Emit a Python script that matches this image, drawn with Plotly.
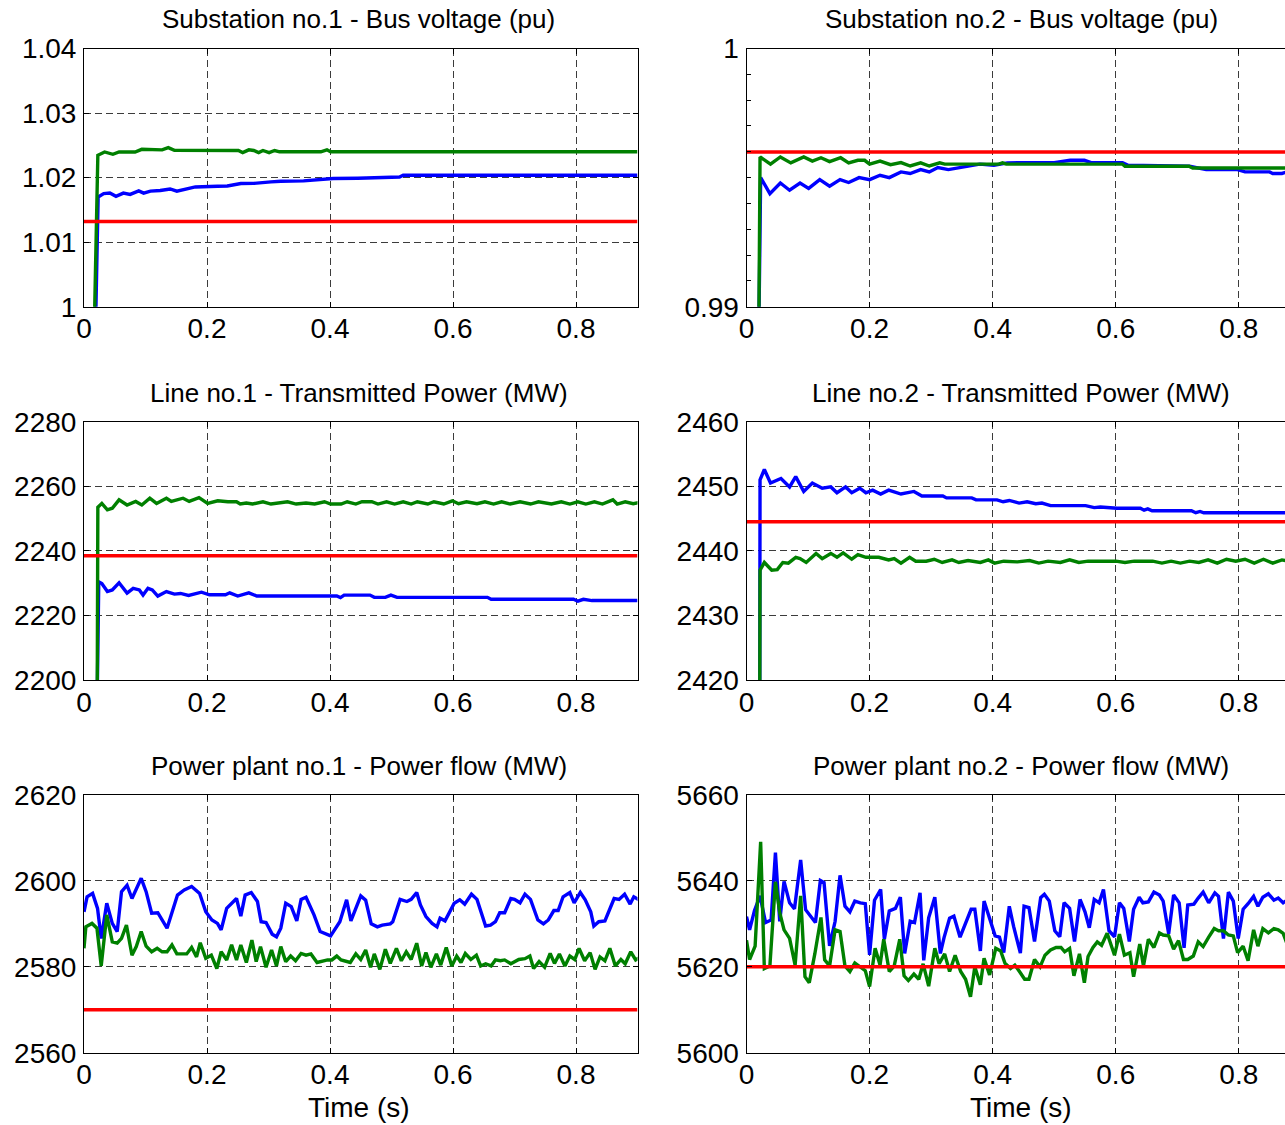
import plotly.graph_objects as go

# ---------------- data ----------------
# Substation no.1 - Bus voltage (pu)
s1_blue_t = [0.019, 0.023, 0.032, 0.042, 0.052, 0.064, 0.075, 0.089, 0.097, 0.108, 0.124, 0.140, 0.151, 0.168, 0.181, 0.217, 0.233, 0.255, 0.276, 0.304, 0.320, 0.357, 0.398, 0.405, 0.445, 0.467, 0.513, 0.519, 0.9]
s1_blue_v = [0.998, 1.0170, 1.01753, 1.0176, 1.0171, 1.0176, 1.0174, 1.01794, 1.0176, 1.0179, 1.0180, 1.01824, 1.0179, 1.0182, 1.01855, 1.01866, 1.0187, 1.01908, 1.0191, 1.01933, 1.01943, 1.0195, 1.0197, 1.01985, 1.0199, 1.0200, 1.0201, 1.02036, 1.02036]
s1_green_t = [0.017, 0.0225, 0.0335, 0.047, 0.057, 0.083, 0.094, 0.114, 0.127, 0.137, 0.147, 0.251, 0.258, 0.268, 0.276, 0.284, 0.291, 0.301, 0.310, 0.318, 0.385, 0.395, 0.401, 0.9]
s1_green_v = [0.998, 1.02346, 1.02397, 1.02361, 1.02397, 1.02397, 1.02438, 1.02430, 1.02430, 1.02465, 1.02423, 1.02420, 1.02387, 1.02430, 1.02420, 1.02387, 1.02420, 1.02387, 1.02420, 1.02400, 1.02400, 1.02430, 1.02400, 1.02400]
s1_ref = 1.0132

# Substation no.2 - Bus voltage (pu)
s2_blue_t = [0.020, 0.023, 0.038, 0.055, 0.070, 0.087, 0.101, 0.119, 0.135, 0.152, 0.166, 0.183, 0.200, 0.217, 0.232, 0.251, 0.266, 0.283, 0.297, 0.311, 0.328, 0.345, 0.362, 0.379, 0.402, 0.424, 0.464, 0.500, 0.526, 0.549, 0.560, 0.611, 0.620, 0.679, 0.720, 0.747, 0.798, 0.810, 0.850, 0.855, 0.870, 0.878, 0.9]
s2_blue_v = [0.989, 0.9950, 0.99438, 0.99479, 0.99451, 0.99479, 0.99458, 0.99492, 0.99467, 0.99492, 0.99481, 0.99500, 0.99492, 0.99509, 0.99500, 0.99522, 0.99516, 0.99531, 0.99522, 0.99539, 0.99531, 0.99539, 0.99544, 0.99552, 0.99548, 0.99557, 0.99558, 0.99558, 0.99567, 0.99567, 0.99558, 0.99558, 0.99548, 0.99544, 0.99544, 0.99531, 0.99531, 0.99522, 0.99522, 0.99516, 0.99516, 0.99522, 0.99520]
s2_green_t = [0.020, 0.022, 0.039, 0.055, 0.072, 0.093, 0.107, 0.121, 0.135, 0.153, 0.166, 0.181, 0.192, 0.200, 0.217, 0.234, 0.251, 0.266, 0.283, 0.297, 0.314, 0.322, 0.410, 0.416, 0.422, 0.611, 0.615, 0.719, 0.725, 0.9]
s2_green_v = [0.989, 0.99580, 0.99552, 0.99580, 0.99557, 0.99580, 0.99564, 0.99577, 0.99562, 0.99577, 0.99557, 0.99567, 0.99567, 0.99552, 0.99564, 0.99550, 0.99558, 0.99545, 0.99557, 0.99545, 0.99557, 0.99552, 0.99552, 0.99557, 0.99552, 0.99552, 0.99544, 0.99544, 0.99537, 0.99537]
s2_ref = 0.99599

# Line no.1 - Transmitted Power (MW)
l1_blue_t = [0.0215, 0.024, 0.029, 0.038, 0.046, 0.057, 0.070, 0.080, 0.090, 0.096, 0.104, 0.111, 0.120, 0.134, 0.147, 0.157, 0.170, 0.191, 0.204, 0.230, 0.237, 0.250, 0.268, 0.281, 0.411, 0.417, 0.423, 0.465, 0.472, 0.490, 0.499, 0.509, 0.656, 0.662, 0.796, 0.803, 0.812, 0.826, 0.9]
l1_blue_v = [2195, 2230.4, 2229.9, 2227.4, 2227.9, 2230.1, 2226.9, 2228.4, 2227.9, 2226.3, 2228.4, 2227.9, 2226.0, 2227.4, 2226.6, 2226.8, 2226.2, 2227.2, 2226.4, 2226.4, 2227.0, 2226.0, 2227.0, 2226.0, 2226.0, 2225.5, 2226.3, 2226.3, 2225.6, 2225.6, 2226.3, 2225.6, 2225.6, 2225.0, 2225.0, 2224.4, 2225.0, 2224.6, 2224.6]
l1_green_t = [0.0215, 0.0225, 0.029, 0.038, 0.046, 0.057, 0.070, 0.084, 0.094, 0.107, 0.118, 0.134, 0.142, 0.151, 0.161, 0.171, 0.187, 0.201, 0.2175, 0.234, 0.248, 0.254, 0.264, 0.274, 0.291, 0.304, 0.318, 0.331, 0.345, 0.361, 0.375, 0.391, 0.401, 0.418, 0.428, 0.442, 0.452, 0.468, 0.478, 0.492, 0.505, 0.519, 0.532, 0.542, 0.559, 0.569, 0.585, 0.599, 0.609, 0.622, 0.639, 0.652, 0.666, 0.679, 0.693, 0.709, 0.726, 0.739, 0.760, 0.776, 0.790, 0.803, 0.816, 0.830, 0.843, 0.860, 0.867, 0.880, 0.893, 0.909]
l1_green_v = [2195, 2253.5, 2254.7, 2252.7, 2253.2, 2255.8, 2254.2, 2255.3, 2254.2, 2256.3, 2254.7, 2256.3, 2255.3, 2255.8, 2256.3, 2255.3, 2256.5, 2254.7, 2255.5, 2255.2, 2255.2, 2254.5, 2254.8, 2254.5, 2255.2, 2254.5, 2254.8, 2255.2, 2254.5, 2254.8, 2254.5, 2255.2, 2254.5, 2254.5, 2255.2, 2254.5, 2255.2, 2255.2, 2254.5, 2255.2, 2254.5, 2255.2, 2254.5, 2255.2, 2254.5, 2255.2, 2254.5, 2255.5, 2254.6, 2255.2, 2254.6, 2255.2, 2254.5, 2255.2, 2254.5, 2255.2, 2254.5, 2255.2, 2254.5, 2255.2, 2254.5, 2255.2, 2254.5, 2255.2, 2254.5, 2255.8, 2254.5, 2255.2, 2254.6, 2255.2]
l1_ref = 2238.5

# Line no.2 - Transmitted Power (MW)
l2_blue_t = [0.0215, 0.022, 0.029, 0.039, 0.056, 0.070, 0.080, 0.093, 0.107, 0.123, 0.137, 0.147, 0.161, 0.171, 0.184, 0.194, 0.205, 0.218, 0.231, 0.251, 0.272, 0.285, 0.319, 0.325, 0.366, 0.373, 0.407, 0.417, 0.427, 0.443, 0.456, 0.470, 0.480, 0.494, 0.551, 0.565, 0.575, 0.590, 0.602, 0.640, 0.646, 0.652, 0.659, 0.723, 0.730, 0.737, 0.743, 0.9]
l2_blue_v = [2415, 2451.0, 2452.6, 2450.5, 2451.2, 2449.9, 2451.5, 2449.2, 2450.5, 2449.7, 2449.9, 2449.0, 2449.9, 2449.0, 2449.7, 2449.0, 2449.4, 2448.8, 2449.4, 2448.8, 2449.2, 2448.5, 2448.5, 2448.2, 2448.2, 2447.9, 2447.9, 2447.6, 2447.8, 2447.4, 2447.6, 2447.3, 2447.4, 2447.0, 2447.0, 2446.7, 2446.8, 2446.7, 2446.6, 2446.6, 2446.3, 2446.5, 2446.2, 2446.2, 2445.9, 2446.1, 2445.9, 2445.9]
l2_green_t = [0.0215, 0.022, 0.029, 0.041, 0.050, 0.059, 0.068, 0.080, 0.087, 0.097, 0.113, 0.123, 0.137, 0.147, 0.157, 0.171, 0.181, 0.194, 0.215, 0.231, 0.240, 0.251, 0.265, 0.275, 0.292, 0.305, 0.318, 0.334, 0.345, 0.360, 0.380, 0.393, 0.403, 0.418, 0.440, 0.460, 0.475, 0.490, 0.510, 0.525, 0.540, 0.555, 0.575, 0.600, 0.615, 0.630, 0.660, 0.675, 0.690, 0.705, 0.720, 0.735, 0.750, 0.765, 0.780, 0.795, 0.810, 0.825, 0.840, 0.855, 0.870, 0.885, 0.9]
l2_green_v = [2415, 2437.0, 2438.2, 2437.0, 2437.1, 2438.2, 2438.1, 2439.0, 2438.8, 2438.2, 2439.6, 2438.8, 2439.6, 2439.0, 2439.7, 2438.7, 2439.4, 2439.0, 2439.0, 2438.6, 2438.8, 2438.1, 2439.0, 2438.4, 2438.4, 2438.7, 2438.2, 2438.6, 2438.2, 2438.5, 2438.2, 2438.6, 2438.1, 2438.4, 2438.3, 2438.5, 2438.1, 2438.4, 2438.2, 2438.6, 2438.2, 2438.4, 2438.4, 2438.4, 2438.2, 2438.4, 2438.4, 2438.1, 2438.4, 2438.1, 2438.4, 2438.2, 2438.6, 2438.1, 2438.7, 2438.4, 2438.7, 2438.1, 2438.7, 2438.1, 2438.6, 2438.3, 2438.6]
l2_ref = 2444.5

# Power plant no.1 - Power flow (MW)
p1_blue_t = [0.000, 0.005, 0.014, 0.022, 0.028, 0.037, 0.046, 0.054, 0.061, 0.070, 0.078, 0.093, 0.101, 0.110, 0.120, 0.135, 0.152, 0.163, 0.175, 0.188, 0.198, 0.208, 0.217, 0.223, 0.232, 0.248, 0.255, 0.262, 0.272, 0.282, 0.288, 0.296, 0.306, 0.313, 0.320, 0.328, 0.337, 0.346, 0.353, 0.361, 0.374, 0.384, 0.401, 0.416, 0.427, 0.434, 0.450, 0.458, 0.467, 0.477, 0.485, 0.498, 0.502, 0.514, 0.525, 0.532, 0.541, 0.547, 0.556, 0.566, 0.574, 0.579, 0.587, 0.602, 0.611, 0.619, 0.630, 0.639, 0.653, 0.661, 0.669, 0.676, 0.684, 0.694, 0.700, 0.709, 0.717, 0.726, 0.738, 0.747, 0.755, 0.764, 0.771, 0.779, 0.790, 0.797, 0.807, 0.815, 0.824, 0.829, 0.837, 0.847, 0.862, 0.870, 0.879, 0.888, 0.894, 0.905]
p1_blue_v = [2592.8, 2596.3, 2597.1, 2593.6, 2586.6, 2594.8, 2590.1, 2588.2, 2597.5, 2599.0, 2595.9, 2600.6, 2597.5, 2592.5, 2592.6, 2589.0, 2596.7, 2597.9, 2598.7, 2597.1, 2592.8, 2590.9, 2590.1, 2588.6, 2593.6, 2595.9, 2591.8, 2596.7, 2597.3, 2595.2, 2590.5, 2590.3, 2587.6, 2587.0, 2589.0, 2594.8, 2594.0, 2590.7, 2595.7, 2596.2, 2592.1, 2588.2, 2587.2, 2590.5, 2595.6, 2590.7, 2596.5, 2595.5, 2590.0, 2589.3, 2589.7, 2590.0, 2590.5, 2595.7, 2595.2, 2595.7, 2597.3, 2594.4, 2591.7, 2590.1, 2589.3, 2591.3, 2590.7, 2594.8, 2595.6, 2594.6, 2596.9, 2595.7, 2589.5, 2589.7, 2590.5, 2592.6, 2592.6, 2595.9, 2595.7, 2594.9, 2596.9, 2595.7, 2590.9, 2590.0, 2590.9, 2593.1, 2593.1, 2596.3, 2597.3, 2594.9, 2597.3, 2595.6, 2592.8, 2589.5, 2590.5, 2590.7, 2595.9, 2595.7, 2596.9, 2594.6, 2596.3, 2595.4]
p1_green_t = [0.000, 0.003, 0.013, 0.021, 0.028, 0.037, 0.046, 0.054, 0.061, 0.069, 0.078, 0.085, 0.093, 0.101, 0.110, 0.119, 0.127, 0.135, 0.143, 0.151, 0.167, 0.175, 0.183, 0.189, 0.198, 0.207, 0.216, 0.223, 0.232, 0.240, 0.248, 0.255, 0.264, 0.273, 0.280, 0.287, 0.296, 0.305, 0.313, 0.320, 0.328, 0.336, 0.344, 0.353, 0.361, 0.369, 0.379, 0.396, 0.403, 0.411, 0.418, 0.433, 0.442, 0.450, 0.458, 0.466, 0.472, 0.481, 0.490, 0.498, 0.508, 0.516, 0.524, 0.532, 0.541, 0.549, 0.556, 0.564, 0.573, 0.580, 0.589, 0.598, 0.606, 0.613, 0.620, 0.629, 0.638, 0.645, 0.653, 0.662, 0.669, 0.677, 0.684, 0.694, 0.707, 0.717, 0.725, 0.731, 0.740, 0.749, 0.758, 0.765, 0.773, 0.782, 0.790, 0.798, 0.805, 0.814, 0.823, 0.831, 0.839, 0.847, 0.855, 0.864, 0.873, 0.880, 0.889, 0.897, 0.905]
p1_green_v = [2584.3, 2589.3, 2590.1, 2589.0, 2580.2, 2592.1, 2585.8, 2585.5, 2586.6, 2589.7, 2582.7, 2584.7, 2588.2, 2584.8, 2583.5, 2584.3, 2583.5, 2583.5, 2585.1, 2583.0, 2583.0, 2584.5, 2582.3, 2585.6, 2582.0, 2582.7, 2579.6, 2583.5, 2581.6, 2585.1, 2581.6, 2585.1, 2581.0, 2586.2, 2581.2, 2584.7, 2579.9, 2583.9, 2580.2, 2584.7, 2581.2, 2582.5, 2581.4, 2583.1, 2582.7, 2583.0, 2581.0, 2581.6, 2581.6, 2582.5, 2581.6, 2581.0, 2583.0, 2581.7, 2583.9, 2579.9, 2583.0, 2579.4, 2584.1, 2580.8, 2584.3, 2581.4, 2583.5, 2581.7, 2585.5, 2580.2, 2583.3, 2579.9, 2583.0, 2580.4, 2584.5, 2580.2, 2582.5, 2581.0, 2583.1, 2581.7, 2582.7, 2580.2, 2580.7, 2580.2, 2581.6, 2581.4, 2581.6, 2580.7, 2581.7, 2581.9, 2582.5, 2579.6, 2581.2, 2579.9, 2583.1, 2580.8, 2583.0, 2580.2, 2582.5, 2581.7, 2584.3, 2581.4, 2583.3, 2579.4, 2582.3, 2581.4, 2584.3, 2580.2, 2581.7, 2580.7, 2583.5, 2581.6, 2582.3]
p1_ref = 2570

# Power plant no.2 - Power flow (MW)
p2_blue_t = [0.000, 0.005, 0.013, 0.022, 0.031, 0.040, 0.047, 0.054, 0.061, 0.070, 0.078, 0.088, 0.096, 0.104, 0.112, 0.120, 0.126, 0.135, 0.144, 0.152, 0.160, 0.168, 0.176, 0.185, 0.193, 0.200, 0.208, 0.218, 0.224, 0.232, 0.242, 0.250, 0.257, 0.266, 0.273, 0.282, 0.288, 0.296, 0.306, 0.315, 0.321, 0.330, 0.337, 0.347, 0.356, 0.365, 0.371, 0.380, 0.386, 0.395, 0.404, 0.411, 0.418, 0.427, 0.434, 0.445, 0.451, 0.459, 0.468, 0.478, 0.484, 0.492, 0.501, 0.509, 0.516, 0.525, 0.533, 0.542, 0.550, 0.557, 0.565, 0.573, 0.580, 0.589, 0.598, 0.606, 0.613, 0.622, 0.629, 0.638, 0.644, 0.653, 0.662, 0.671, 0.677, 0.686, 0.694, 0.703, 0.711, 0.717, 0.727, 0.734, 0.742, 0.751, 0.761, 0.767, 0.775, 0.783, 0.791, 0.799, 0.807, 0.815, 0.824, 0.831, 0.839, 0.848, 0.857, 0.864, 0.872, 0.880, 0.890, 0.900]
p2_blue_v = [5631.7, 5628.6, 5633.1, 5636.5, 5630.3, 5630.9, 5646.6, 5630.6, 5639.9, 5634.9, 5633.5, 5644.9, 5633.3, 5631.8, 5630.3, 5640.1, 5639.6, 5624.9, 5630.6, 5641.3, 5634.1, 5632.8, 5635.3, 5634.9, 5634.7, 5622.8, 5635.5, 5638.0, 5626.4, 5633.0, 5633.6, 5636.2, 5623.1, 5630.6, 5630.3, 5637.2, 5621.5, 5631.4, 5636.2, 5623.1, 5626.8, 5631.3, 5631.8, 5626.9, 5630.3, 5633.4, 5633.4, 5623.7, 5635.3, 5631.0, 5627.2, 5626.9, 5623.3, 5634.1, 5629.4, 5623.2, 5634.1, 5633.8, 5625.9, 5636.1, 5636.9, 5635.3, 5628.4, 5627.0, 5634.9, 5633.6, 5625.9, 5635.7, 5632.8, 5629.1, 5635.7, 5634.9, 5638.0, 5628.4, 5627.0, 5634.9, 5633.6, 5625.9, 5633.4, 5636.2, 5634.9, 5635.1, 5637.4, 5636.7, 5635.3, 5627.7, 5636.7, 5634.9, 5624.4, 5634.4, 5634.6, 5636.0, 5637.4, 5634.9, 5637.2, 5636.4, 5626.6, 5637.4, 5635.3, 5626.6, 5633.4, 5634.7, 5636.4, 5634.1, 5636.2, 5637.0, 5635.5, 5636.0, 5634.9, 5635.7, 5635.0, 5636.0]
p2_green_t = [0.000, 0.005, 0.014, 0.023, 0.029, 0.038, 0.047, 0.054, 0.061, 0.070, 0.079, 0.088, 0.095, 0.102, 0.111, 0.121, 0.127, 0.135, 0.144, 0.152, 0.160, 0.168, 0.176, 0.185, 0.193, 0.200, 0.209, 0.217, 0.223, 0.232, 0.240, 0.249, 0.256, 0.263, 0.272, 0.280, 0.287, 0.296, 0.306, 0.313, 0.322, 0.330, 0.339, 0.348, 0.356, 0.364, 0.371, 0.380, 0.386, 0.395, 0.405, 0.413, 0.420, 0.429, 0.436, 0.443, 0.452, 0.459, 0.468, 0.477, 0.485, 0.494, 0.503, 0.511, 0.517, 0.525, 0.532, 0.541, 0.549, 0.555, 0.563, 0.570, 0.577, 0.586, 0.598, 0.606, 0.614, 0.623, 0.629, 0.639, 0.645, 0.653, 0.662, 0.671, 0.677, 0.686, 0.694, 0.702, 0.710, 0.717, 0.726, 0.734, 0.742, 0.751, 0.760, 0.767, 0.775, 0.783, 0.791, 0.798, 0.807, 0.815, 0.824, 0.831, 0.839, 0.848, 0.857, 0.864, 0.872, 0.880, 0.890, 0.900]
p2_green_v = [5626.2, 5621.7, 5624.8, 5649.1, 5619.6, 5620.2, 5639.8, 5632.6, 5628.6, 5626.6, 5620.4, 5636.5, 5617.7, 5616.3, 5623.0, 5631.5, 5621.6, 5620.2, 5628.6, 5628.2, 5620.2, 5618.9, 5620.9, 5619.9, 5619.1, 5615.4, 5624.3, 5620.4, 5626.4, 5618.9, 5620.2, 5626.4, 5617.9, 5616.8, 5618.3, 5617.1, 5620.7, 5615.5, 5624.3, 5620.7, 5623.0, 5618.9, 5622.7, 5618.9, 5617.1, 5613.0, 5620.0, 5615.8, 5622.0, 5618.1, 5624.3, 5623.7, 5620.8, 5619.6, 5620.4, 5619.0, 5617.1, 5617.1, 5621.7, 5620.0, 5622.7, 5623.9, 5624.5, 5624.5, 5623.5, 5624.3, 5617.9, 5623.0, 5616.3, 5622.4, 5624.5, 5625.8, 5625.0, 5627.8, 5622.7, 5627.6, 5622.7, 5623.3, 5617.7, 5625.3, 5620.2, 5626.4, 5624.5, 5627.9, 5627.4, 5627.2, 5624.1, 5626.1, 5621.7, 5621.7, 5622.5, 5625.8, 5624.7, 5626.9, 5628.9, 5628.4, 5628.4, 5627.4, 5627.2, 5623.3, 5624.8, 5621.4, 5628.6, 5624.8, 5628.9, 5627.9, 5628.9, 5628.6, 5627.8, 5624.7, 5625.0, 5624.0]
p2_ref = 5620

# titles and ticks
titles = ["Substation no.1 - Bus voltage (pu)", "Substation no.2 - Bus voltage (pu)",
          "Line no.1 - Transmitted Power (MW)", "Line no.2 - Transmitted Power (MW)",
          "Power plant no.1 - Power flow (MW)", "Power plant no.2 - Power flow (MW)"]
x_tickvals = [0, 0.2, 0.4, 0.6, 0.8]
x_ticktext = ["0", "0.2", "0.4", "0.6", "0.8"]
y_ticks = [
    ([1.0, 1.01, 1.02, 1.03, 1.04], ["1", "1.01", "1.02", "1.03", "1.04"]),
    ([0.99, 1.0], ["0.99", "1"]),
    ([2200, 2220, 2240, 2260, 2280], ["2200", "2220", "2240", "2260", "2280"]),
    ([2420, 2430, 2440, 2450, 2460], ["2420", "2430", "2440", "2450", "2460"]),
    ([2560, 2580, 2600, 2620], ["2560", "2580", "2600", "2620"]),
    ([5600, 5620, 5640, 5660], ["5600", "5620", "5640", "5660"]),
]
xlabel = "Time (s)"

# ---------------- figure ----------------
W, H = 1285, 1125
BLUE, GREEN, RED = "#0000ff", "#008000", "#ff0000"
FONT = "Liberation Sans, Arial, sans-serif"

series = [
    (s1_blue_t, s1_blue_v, s1_green_t, s1_green_v, s1_ref),
    (s2_blue_t, s2_blue_v, s2_green_t, s2_green_v, s2_ref),
    (l1_blue_t, l1_blue_v, l1_green_t, l1_green_v, l1_ref),
    (l2_blue_t, l2_blue_v, l2_green_t, l2_green_v, l2_ref),
    (p1_blue_t, p1_blue_v, p1_green_t, p1_green_v, p1_ref),
    (p2_blue_t, p2_blue_v, p2_green_t, p2_green_v, p2_ref),
]

col_px = [(84, 637.5), (746.5, 1285)]
col_range = [[0, 0.9], [0, 0.875]]
col_center = [358.5, 1021.5]
row_px = [(48.5, 306.7), (421.7, 680), (795, 1052.7)]
title_y = [18.8, 393, 766.3]

fig = go.Figure()
layout = {}
LW = 3.4
for i, (bt, bv, gt, gv, ref) in enumerate(series):
    r, c = divmod(i, 2)
    n = i + 1
    xa = "x" if n == 1 else f"x{n}"
    ya = "y" if n == 1 else f"y{n}"
    fig.add_trace(go.Scatter(x=bt, y=bv, mode="lines", line=dict(color=BLUE, width=LW),
                             xaxis=xa, yaxis=ya, showlegend=False))
    fig.add_trace(go.Scatter(x=gt, y=gv, mode="lines", line=dict(color=GREEN, width=LW),
                             xaxis=xa, yaxis=ya, showlegend=False))
    fig.add_trace(go.Scatter(x=[0, 0.9], y=[ref, ref], mode="lines", line=dict(color=RED, width=LW),
                             xaxis=xa, yaxis=ya, showlegend=False))
    x0, x1 = col_px[c]
    y0, y1 = row_px[r]
    yv, yt = y_ticks[i]
    common = dict(showline=True, linecolor="black", linewidth=1,
                  ticks="inside", ticklen=5, tickcolor="black", tickwidth=1,
                  showgrid=True, gridcolor="#3c3c3c", gridwidth=1, griddash="7px,4px",
                  zeroline=False, automargin=False,
                  tickfont=dict(family=FONT, size=28, color="black"))
    layout["xaxis" if n == 1 else f"xaxis{n}"] = dict(
        domain=[x0 / W, x1 / W], anchor=ya, range=col_range[c], mirror="ticks",
        tickvals=x_tickvals, ticktext=x_ticktext, ticklabelstandoff=-3, **common)
    yax = dict(domain=[1 - y1 / H, 1 - y0 / H], anchor=xa, range=[yv[0], yv[-1]],
               mirror=("ticks" if c == 0 else True),
               tickvals=yv, ticktext=yt, ticklabelstandoff=1, **common)
    if n == 2:
        yax["minor"] = dict(ticks="inside", ticklen=4, tickcolor="black", dtick=0.001,
                            tick0=0.99, showgrid=False)
    layout["yaxis" if n == 1 else f"yaxis{n}"] = yax

annotations = []
for i, t in enumerate(titles):
    r, c = divmod(i, 2)
    annotations.append(dict(text=t, x=col_center[c] / W, y=1 - title_y[r] / H,
                            xref="paper", yref="paper", xanchor="center", yanchor="middle",
                            showarrow=False, font=dict(family=FONT, size=26, color="black")))
for c in range(2):
    annotations.append(dict(text=xlabel, x=col_center[c] / W, y=1 - 1107.5 / H,
                            xref="paper", yref="paper", xanchor="center", yanchor="middle",
                            showarrow=False, font=dict(family=FONT, size=28, color="black")))

fig.update_layout(width=W, height=H, margin=dict(l=0, r=0, t=0, b=0, autoexpand=False),
                  paper_bgcolor="white", plot_bgcolor="white",
                  annotations=annotations, font=dict(family=FONT, color="black"), **layout)

fig.write_html("out.html")
